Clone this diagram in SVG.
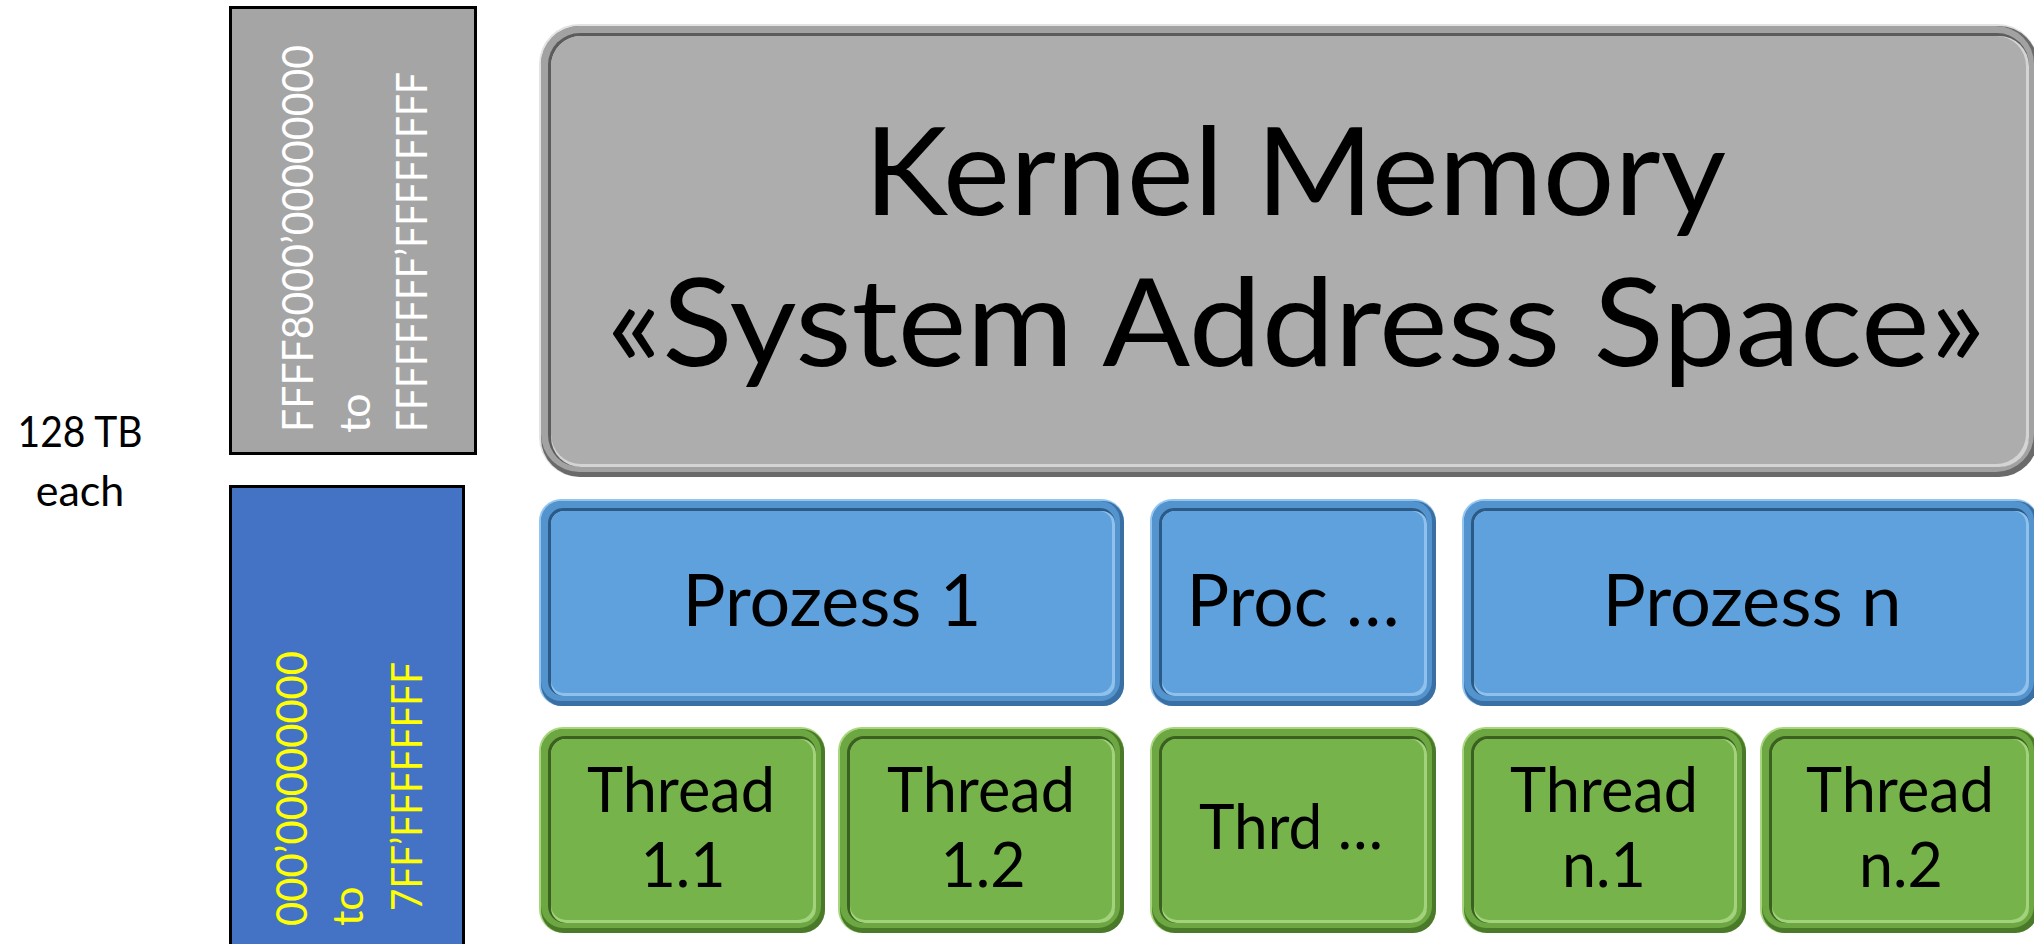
<svg xmlns="http://www.w3.org/2000/svg" width="2034" height="944" viewBox="0 0 2034 944">
<style>
text{font-family:Lato,"Open Sans","Liberation Sans",sans-serif;}
.lbl{fill:#000;text-anchor:middle;}
.addr{fill:#fff;font-size:43px;}
.uaddr{fill:#ffff00;font-size:43px;}
.side{fill:#000;font-size:43px;text-anchor:middle;}
.k{font-size:123px;}
.p{font-size:71px;}
.t{font-size:61px;}
.blue .ol{fill:#92c5f0}.blue .od{fill:#3a6fa3}.blue .om{fill:#5394cf}.blue .il{fill:#2c5a86}.blue .ih{fill:#8fc1ec}.blue .b{fill:#5fa1dc}
.green .ol{fill:#a7d67e}.green .od{fill:#4a7a29}.green .om{fill:#6ca742}.green .il{fill:#3a6120}.green .ih{fill:#a3d27c}.green .b{fill:#77b34b}
.gray .ol{fill:#e2e2e2}.gray .od{fill:#6a6a6a}.gray .om{fill:#a2a2a2}.gray .il{fill:#5c5c5c}.gray .ih{fill:#d4d4d4}.gray .b{fill:#adadad}
.range{stroke:#000;stroke-width:3;}
</style>

<g id="size-label">
<text class="side" x="80" y="447" textLength="125" lengthAdjust="spacingAndGlyphs">128 TB</text>
<text class="side" x="80" y="506">each</text>
</g>

<g id="kernel-range">
<rect class="range" x="230.5" y="7.5" width="245" height="446" fill="#a5a5a5"/>
<text class="addr" transform="translate(313,432) rotate(-90)" textLength="387" lengthAdjust="spacingAndGlyphs">FFFF8000’00000000</text>
<text class="addr" transform="translate(370,433) rotate(-90)">to</text>
<text class="addr" transform="translate(427,432) rotate(-90)" textLength="360" lengthAdjust="spacingAndGlyphs">FFFFFFFF’FFFFFFFF</text>
</g>

<g id="user-range">
<rect class="range" x="230.5" y="486.5" width="233" height="470" fill="#4472c4"/>
<text class="uaddr" transform="translate(307,926) rotate(-90)" textLength="275" lengthAdjust="spacingAndGlyphs">000’00000000</text>
<text class="uaddr" transform="translate(363,926) rotate(-90)">to</text>
<text class="uaddr" transform="translate(422,911) rotate(-90)" textLength="249" lengthAdjust="spacingAndGlyphs">7FF’FFFFFFFF</text>
</g>

<g id="kernel-memory" class="gray">
<rect class="ol" x="539" y="24" width="1499" height="453" rx="40"/>
<rect class="od" x="541" y="26" width="1497" height="451" rx="39"/>
<rect class="om" x="541" y="26" width="1493" height="446" rx="38"/>
<rect class="il" x="548" y="33" width="1481" height="434" rx="32"/>
<rect class="ih" x="551" y="36" width="1478" height="431" rx="30"/>
<rect class="b" x="551" y="36" width="1475" height="428" rx="30"/>
<text class="lbl k" x="1295" y="215" textLength="862" lengthAdjust="spacingAndGlyphs">Kernel Memory</text>
<text class="lbl k" x="1296" y="366" textLength="1379" lengthAdjust="spacingAndGlyphs">«System Address Space»</text>
</g>

<g id="prozess-1" class="blue">
<rect class="ol" x="539" y="499" width="585" height="207" rx="22"/>
<rect class="od" x="541" y="501" width="583" height="205" rx="21"/>
<rect class="om" x="541" y="501" width="579" height="200" rx="20"/>
<rect class="il" x="548" y="508" width="567" height="188" rx="15"/>
<rect class="ih" x="551" y="511" width="564" height="185" rx="13"/>
<rect class="b" x="551" y="511" width="561" height="182" rx="13"/>
<text class="lbl p" x="832" y="626" textLength="299" lengthAdjust="spacingAndGlyphs">Prozess 1</text>
</g>

<g id="proc-more" class="blue">
<rect class="ol" x="1150" y="499" width="286" height="207" rx="22"/>
<rect class="od" x="1152" y="501" width="284" height="205" rx="21"/>
<rect class="om" x="1152" y="501" width="280" height="200" rx="20"/>
<rect class="il" x="1159" y="508" width="268" height="188" rx="15"/>
<rect class="ih" x="1162" y="511" width="265" height="185" rx="13"/>
<rect class="b" x="1162" y="511" width="262" height="182" rx="13"/>
<text class="lbl p" x="1293" y="626" textLength="213" lengthAdjust="spacingAndGlyphs">Proc …</text>
</g>

<g id="prozess-n" class="blue">
<rect class="ol" x="1462" y="499" width="576" height="207" rx="22"/>
<rect class="od" x="1464" y="501" width="574" height="205" rx="21"/>
<rect class="om" x="1464" y="501" width="570" height="200" rx="20"/>
<rect class="il" x="1471" y="508" width="558" height="188" rx="15"/>
<rect class="ih" x="1474" y="511" width="555" height="185" rx="13"/>
<rect class="b" x="1474" y="511" width="552" height="182" rx="13"/>
<text class="lbl p" x="1752" y="626" textLength="299" lengthAdjust="spacingAndGlyphs">Prozess n</text>
</g>

<g id="thread-1-1" class="green">
<rect class="ol" x="539" y="727" width="286" height="206" rx="24"/>
<rect class="od" x="541" y="729" width="284" height="204" rx="23"/>
<rect class="om" x="541" y="729" width="280" height="199" rx="22"/>
<rect class="il" x="548" y="736" width="268" height="187" rx="17"/>
<rect class="ih" x="551" y="739" width="265" height="184" rx="15"/>
<rect class="b" x="551" y="739" width="262" height="181" rx="15"/>
<text class="lbl t" x="681" y="812" textLength="188" lengthAdjust="spacingAndGlyphs">Thread</text>
<text class="lbl t" x="683" y="887">1.1</text>
</g>

<g id="thread-1-2" class="green">
<rect class="ol" x="838" y="727" width="286" height="206" rx="24"/>
<rect class="od" x="840" y="729" width="284" height="204" rx="23"/>
<rect class="om" x="840" y="729" width="280" height="199" rx="22"/>
<rect class="il" x="847" y="736" width="268" height="187" rx="17"/>
<rect class="ih" x="850" y="739" width="265" height="184" rx="15"/>
<rect class="b" x="850" y="739" width="262" height="181" rx="15"/>
<text class="lbl t" x="981" y="812" textLength="188" lengthAdjust="spacingAndGlyphs">Thread</text>
<text class="lbl t" x="983" y="887">1.2</text>
</g>

<g id="thread-more" class="green">
<rect class="ol" x="1150" y="727" width="286" height="206" rx="24"/>
<rect class="od" x="1152" y="729" width="284" height="204" rx="23"/>
<rect class="om" x="1152" y="729" width="280" height="199" rx="22"/>
<rect class="il" x="1159" y="736" width="268" height="187" rx="17"/>
<rect class="ih" x="1162" y="739" width="265" height="184" rx="15"/>
<rect class="b" x="1162" y="739" width="262" height="181" rx="15"/>
<text class="lbl t" x="1291" y="849" textLength="184" lengthAdjust="spacingAndGlyphs">Thrd …</text>
</g>

<g id="thread-n-1" class="green">
<rect class="ol" x="1462" y="727" width="284" height="206" rx="24"/>
<rect class="od" x="1464" y="729" width="282" height="204" rx="23"/>
<rect class="om" x="1464" y="729" width="278" height="199" rx="22"/>
<rect class="il" x="1471" y="736" width="266" height="187" rx="17"/>
<rect class="ih" x="1474" y="739" width="263" height="184" rx="15"/>
<rect class="b" x="1474" y="739" width="260" height="181" rx="15"/>
<text class="lbl t" x="1604" y="812" textLength="188" lengthAdjust="spacingAndGlyphs">Thread</text>
<text class="lbl t" x="1604" y="887">n.1</text>
</g>

<g id="thread-n-2" class="green">
<rect class="ol" x="1760" y="727" width="278" height="206" rx="24"/>
<rect class="od" x="1762" y="729" width="276" height="204" rx="23"/>
<rect class="om" x="1762" y="729" width="272" height="199" rx="22"/>
<rect class="il" x="1769" y="736" width="260" height="187" rx="17"/>
<rect class="ih" x="1772" y="739" width="257" height="184" rx="15"/>
<rect class="b" x="1772" y="739" width="254" height="181" rx="15"/>
<text class="lbl t" x="1900" y="812" textLength="188" lengthAdjust="spacingAndGlyphs">Thread</text>
<text class="lbl t" x="1901" y="887">n.2</text>
</g>

<g id="connectors"></g>
</svg>
